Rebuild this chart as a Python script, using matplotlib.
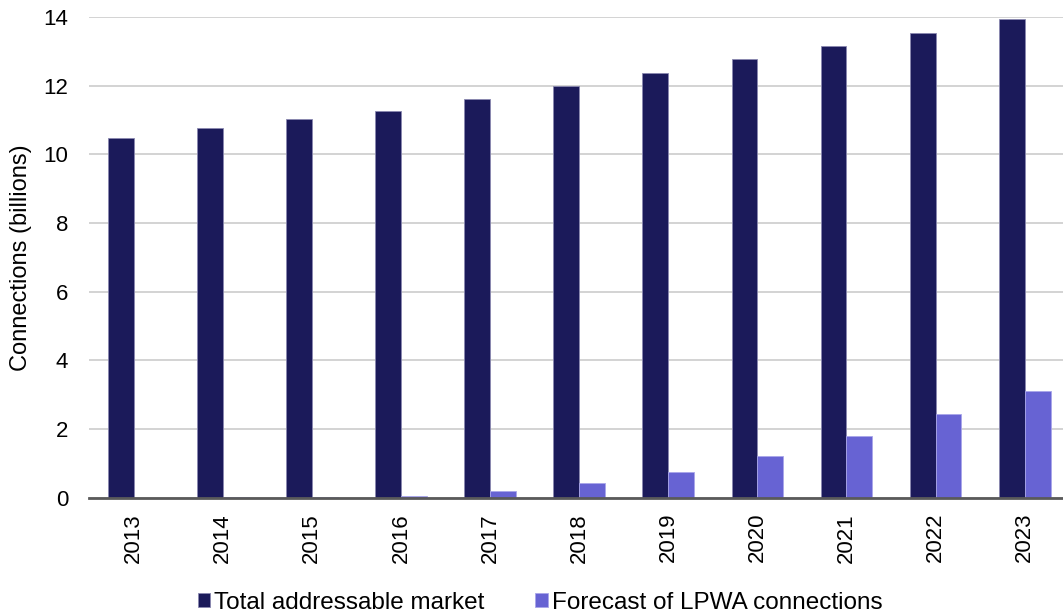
import matplotlib.pyplot as plt
import numpy as np

plt.rcParams['font.family'] = ['Liberation Sans', 'DejaVu Sans']

years = ['2013', '2014', '2015', '2016', '2017', '2018', '2019', '2020', '2021', '2022', '2023']
total_market = [10.47, 10.77, 11.02, 11.26, 11.61, 11.99, 12.37, 12.77, 13.16, 13.54, 13.94]
lpwa_forecast = [0.0, 0.01, 0.01, 0.05, 0.19, 0.43, 0.76, 1.21, 1.79, 2.44, 3.12]

DARK = '#1b1a5a'
LIGHT = '#6763d3'

fig = plt.figure(figsize=(10.63, 6.16), dpi=100)
ax = fig.add_axes([89 / 1063, 1 - 497.7 / 616, (1063 - 89) / 1063, (497.7 - 17) / 616])

x = np.arange(len(years))
w = 0.29
ax.bar(x - w / 2, total_market, w, color=DARK, edgecolor='#8a88b0', linewidth=0.6,
       label='Total addressable market', zorder=3)
ax.bar(x + w / 2, lpwa_forecast, w, color=LIGHT, edgecolor='#a9a6ea', linewidth=0.6,
       label='Forecast of LPWA connections', zorder=3)

ax.set_xlim(-0.5, 10.43)
ax.set_ylim(0, 14)
ax.set_yticks(np.arange(0, 15, 2))
ax.set_xticks(x)
ax.set_xticklabels(years, rotation=90, fontsize=16)
ax.tick_params(axis='y', labelsize=16, length=0, pad=15)
ax.tick_params(axis='x', length=0, pad=11)
ax.yaxis.grid(True, color='#d0d0d0', linewidth=1.3, zorder=0)
ax.set_axisbelow(True)
for s in ['top', 'right', 'left']:
    ax.spines[s].set_visible(False)
ax.spines['bottom'].set_color('#5a5a5a')
ax.spines['bottom'].set_linewidth(2)
ax.spines['bottom'].set_zorder(4)

ax.set_ylabel('Connections (billions)', fontsize=17)
ax.yaxis.set_label_coords(-57 / 974, 0.5)

fig.legend(loc='center', bbox_to_anchor=(540 / 1063, 1 - 603 / 616), ncol=2,
           frameon=False, fontsize=17.5, handlelength=0.5, handleheight=0.5,
           handletextpad=0.17, columnspacing=2.1, borderaxespad=0)

fig.savefig('out.png', dpi=100)
